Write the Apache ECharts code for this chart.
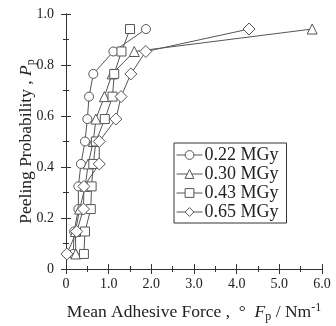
<!DOCTYPE html>
<html>
<head>
<meta charset="utf-8">
<script src="https://cdn.jsdelivr.net/npm/echarts@6/dist/echarts.min.js"></script>
<style>
  html, body { margin: 0; padding: 0; background: #fff; }
  #chart { width: 336px; height: 326px; }
</style>
</head>
<body>
<div id="chart"></div>
<script>
// peeling probability levels (same for every dose)
const probLevels = [0.059, 0.147, 0.235, 0.324, 0.412, 0.5, 0.588, 0.676, 0.765, 0.853, 0.941]

// mean adhesive force for each level, one array per dose
const force022 = [0.17, 0.19, 0.29, 0.29, 0.35, 0.445, 0.50, 0.54, 0.64, 1.11, 1.875]
const force030 = [0.23, 0.22, 0.32, 0.45, 0.52, 0.64, 0.70, 0.90, 1.08, 1.60, 5.77]
const force043 = [0.42, 0.445, 0.58, 0.60, 0.64, 0.70, 0.91, 1.09, 1.13, 1.30, 1.50]
const force065 = [0.02, 0.25, 0.41, 0.42, 0.78, 0.78, 1.17, 1.29, 1.52, 1.87, 4.29]

const doseNames = ['0.22 MGy', '0.30 MGy', '0.43 MGy', '0.65 MGy']
const doseForces = [force022, force030, force043, force065]
const doseSymbols = ['circle', 'triangle', 'rect', 'diamond']
const symbolSizes = [9, 10, 9, 12]

const ink = '#333'
const font = 'Liberation Serif'

const chart = echarts.init(document.getElementById('chart'))

const tickFmt = v => (v === 0 ? '0' : v.toFixed(1))

const baseX = {
  type: 'value',
  min: 0,
  max: 6,
  interval: 1,
  axisLine: { show: true, lineStyle: { color: ink, width: 1 } },
  axisTick: { show: true, inside: true, length: 5, lineStyle: { color: ink } },
  minorTick: { show: true, splitNumber: 2, length: 3, lineStyle: { color: ink } },
  splitLine: { show: false },
}
const baseY = {
  type: 'value',
  min: 0,
  max: 1,
  interval: 0.2,
  axisLine: { show: true, lineStyle: { color: ink, width: 1 } },
  axisTick: { show: true, inside: true, length: 5, lineStyle: { color: ink } },
  minorTick: { show: true, splitNumber: 2, length: 3, lineStyle: { color: ink } },
  splitLine: { show: false },
}

chart.setOption({
  animation: false,
  textStyle: { fontFamily: font },
  grid: { left: 66, right: 14, top: 14, bottom: 57, outerBoundsMode: 'none' },
  legend: {
    left: 174,
    top: 143,
    orient: 'vertical',
    backgroundColor: '#fff',
    borderColor: ink,
    borderWidth: 1,
    borderRadius: 0,
    padding: [3, 8, 2, 2],
    itemGap: 1,
    itemWidth: 26,
    itemHeight: 11,
    lineStyle: { width: 1, color: '#555' },
    itemStyle: { color: '#fff', borderColor: '#555', borderWidth: 1 },
    data: doseNames,
    textStyle: { fontFamily: font, fontSize: 18, color: '#222', padding: [0, 0, 0, -3] },
  },
  xAxis: [
    {
      ...baseX,
      position: 'bottom',
      axisLabel: { fontFamily: font, fontSize: 14, color: '#222', margin: 8, formatter: tickFmt },
      name: '{t|Mean Adhesive Force ,  °  }{i|F}{sub|p}{t| / Nm}{sup|-1}',
      nameLocation: 'middle',
      nameGap: 33,
      nameMoveOverlap: false,
      nameTextStyle: {
        rich: {
          t: { fontFamily: font, fontSize: 17.5, color: '#222' },
          i: { fontFamily: font, fontSize: 17.5, fontStyle: 'italic', color: '#222' },
          sub: { fontFamily: font, fontSize: 12, color: '#222', verticalAlign: 'bottom', padding: [9, 0, 0, 0] },
          sup: { fontFamily: font, fontSize: 12, color: '#222', verticalAlign: 'top', padding: [0, 0, 9, 0] },
        },
      },
    },
    { ...baseX, position: 'top', axisLabel: { show: false } },
  ],
  yAxis: [
    {
      ...baseY,
      position: 'left',
      axisLabel: { fontFamily: font, fontSize: 14, color: '#222', margin: 12, formatter: tickFmt },
      name: '{t|Peeling Probability , }{i|P}{sub|p}',
      nameLocation: 'middle',
      nameRotate: 90,
      nameGap: 29,
      nameMoveOverlap: false,
      nameTextStyle: {
        rich: {
          t: { fontFamily: font, fontSize: 17.5, color: '#222' },
          i: { fontFamily: font, fontSize: 17.5, fontStyle: 'italic', color: '#222' },
          sub: { fontFamily: font, fontSize: 12, color: '#222', verticalAlign: 'bottom', padding: [9, 0, 0, 0] },
        },
      },
    },
    { ...baseY, position: 'right', axisLabel: { show: false } },
  ],
  series: doseNames.map((name, k) => ({
    type: 'line',
    name,
    data: doseForces[k].map((f, j) => [f, probLevels[j]]),
    symbol: doseSymbols[k],
    symbolSize: symbolSizes[k],
    showAllSymbol: true,
    lineStyle: { color: '#555', width: 1 },
    itemStyle: { color: '#fff', borderColor: '#555', borderWidth: 1 },
    z: 2 + k,
  })),
})
</script>
</body>
</html>
